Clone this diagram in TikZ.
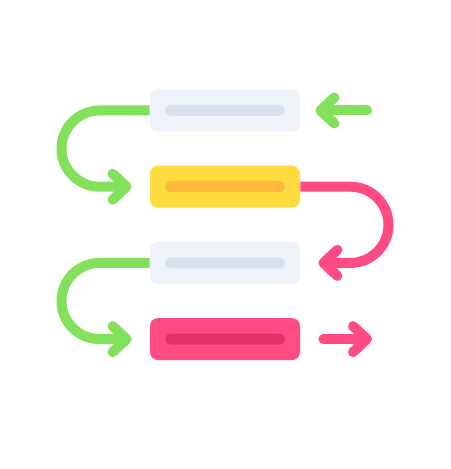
\documentclass[tikz,border=0pt]{standalone}
\usepackage{tikz}
\usetikzlibrary{arrows.meta}

\definecolor{paleBox}{HTML}{EEF2F9}
\definecolor{paleBar}{HTML}{D8E0EE}
\definecolor{sunBox}{HTML}{FFDB3D}
\definecolor{sunBar}{HTML}{FFB83E}
\definecolor{roseBox}{HTML}{FF4D84}
\definecolor{roseBar}{HTML}{E4306B}
\definecolor{leafLine}{HTML}{82E05A}
\definecolor{roseLine}{HTML}{FF4B82}

\tikzset{
  stagebox/.style={rounded corners=4pt, minimum width=75pt,
    minimum height=21pt, inner sep=0pt},
  stagebar/.style={rounded corners=2.75pt, minimum width=60pt,
    minimum height=5.5pt, inner sep=0pt},
  flow/.style={line width=5pt, line cap=round,
    -{Straight Barb[round, length=7pt, width=13pt]}}
}

\begin{document}
\begin{tikzpicture}[x=0.5pt, y=-0.5pt]
  \useasboundingbox[fill=white] (0,0) rectangle (450,469);

  \node[stagebox, fill=paleBox] (box1) at (225, 110.5) {};
  \node[stagebox, fill=sunBox] (box2) at (225, 186.7) {};
  \node[stagebox, fill=paleBox] (box3) at (225, 262.9) {};
  \node[stagebox, fill=roseBox] (box4) at (225, 339.1) {};

  \node[stagebar, fill=paleBar] (bar1) at (box1) {};
  \node[stagebar, fill=sunBar] (bar2) at (box2) {};
  \node[stagebar, fill=paleBar] (bar3) at (box3) {};
  \node[stagebar, fill=roseBar] (bar4) at (box4) {};

  \coordinate (inTail) at (367, 110.5);
  \coordinate (outTip) at (372, 339.1);

  \draw[flow, leafLine, shorten >=7.5pt] (inTail) -- (box1.east);
  \draw[flow, leafLine, line cap=butt, shorten >=9pt] (box1.west) -- ++(-50,0)
    arc[start angle=-90, end angle=-270, radius=38.1] -- (box2.west);
  \draw[flow, roseLine, line cap=butt, shorten >=9pt] (box2.east) -- ++(50,0)
    arc[start angle=-90, end angle=90, radius=38.1] -- (box3.east);
  \draw[flow, leafLine, line cap=butt, shorten >=9pt] (box3.west) -- ++(-50,0)
    arc[start angle=-90, end angle=-270, radius=38.1] -- (box4.west);
  \draw[flow, roseLine, shorten <=11.5pt] (box4.east) -- (outTip);
\end{tikzpicture}
\end{document}
